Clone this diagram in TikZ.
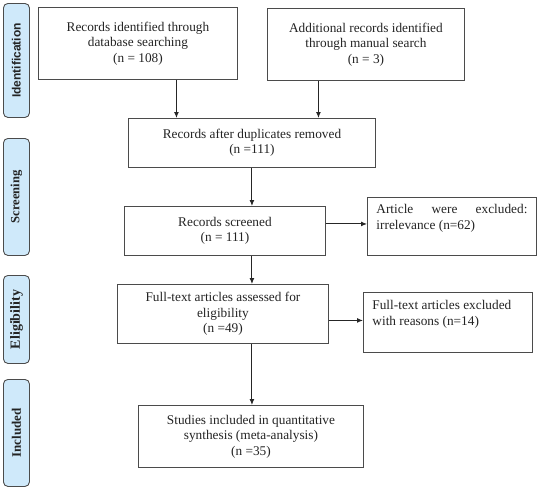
\documentclass[tikz,border=0pt]{standalone}
\usepackage{fontspec}
\setmainfont{Liberation Serif}
\setsansfont{Liberation Sans}
\usetikzlibrary{arrows.meta,calc}
\definecolor{lblfill}{RGB}{207,233,250}
\definecolor{edge}{RGB}{75,75,75}
\definecolor{txt}{RGB}{35,35,35}
\begin{document}
\begin{tikzpicture}[x=1pt,y=-1pt,
  box/.style={draw=edge,line width=0.9pt,anchor=north west,inner sep=0pt,align=center,
    font=\fontsize{13.3}{15.5}\selectfont,text=txt},
  sidebox/.style={draw=edge,line width=0.9pt,fill=lblfill,rounded corners=4.5pt,anchor=north west,
    inner sep=0pt,minimum width=26pt,font=\bfseries,text=txt},
  arr/.style={draw=black!85,line width=1pt,-{Latex[length=6pt,width=5pt]}}]
\useasboundingbox (0,0) rectangle (539,490);

% phase labels
\node[sidebox,minimum height=114pt] (s1) at (3,3)
  {\rotatebox{90}{\sffamily\fontsize{12}{14}\selectfont Identification}};
\node[sidebox,minimum height=117pt] (s2) at (3,138)
  {\rotatebox{90}{\fontsize{12.6}{14}\selectfont Screening}};
\node[sidebox,minimum height=88pt] (s3) at (3,275)
  {\rotatebox{90}{\fontsize{14}{15}\selectfont Eligibility}};
\node[sidebox,minimum height=107pt] (s4) at (3,379)
  {\rotatebox{90}{\fontsize{13}{14}\selectfont Included}};

% boxes
\node[box,minimum width=199pt,minimum height=72pt] (b1) at (38,7)
  {Records identified through\\database searching\\(n = 108)};
\node[box,minimum width=197pt,minimum height=72pt] (b2) at (267,8)
  {Additional records identified\\through manual search\\(n = 3)};
\node[box,minimum width=247pt,minimum height=49pt] (b3) at (128,118)
  {Records after duplicates removed\\(n =111)};
\node[box,minimum width=201pt,minimum height=49pt] (b4) at (124,206)
  {Records screened\\(n = 111)};
\node[box,minimum width=169pt,minimum height=58pt,inner xsep=9pt] (b5) at (367,197)
  {\parbox[c][58pt][t]{151pt}{\vspace*{7pt}Article\hfill were\hfill excluded:\\irrelevance (n=62)}};
\node[box,minimum width=211pt,minimum height=59pt] (b6) at (117,284)
  {Full-text articles assessed for\\eligibility\\(n =49)};
\node[box,minimum width=169pt,minimum height=60pt,inner xsep=9pt] (b7) at (363,292)
  {\parbox[c][60pt][t]{151pt}{\raggedright\vspace*{8pt}Full-text articles excluded\\with reasons (n=14)}};
\node[box,minimum width=225pt,minimum height=62pt] (b8) at (138,405)
  {Studies included in quantitative\\synthesis (meta-analysis)\\(n =35)};

% connectors
\draw[arr] ([xshift=38.5pt]b1.south) -- ([xshift=38.5pt]b1.south |- b3.north);
\draw[arr] ([xshift=-47.5pt]b2.south) -- ([xshift=-47.5pt]b2.south |- b3.north);
\draw[arr] (b3.south) -- (b3.south |- b4.north);
\draw[arr] (b3.south |- b4.south) -- (b3.south |- b6.north);
\draw[arr] (b3.south |- b6.south) -- (b3.south |- b8.north);
\draw[arr] ([yshift=7pt]b4.east) -- ([yshift=7pt]b4.east -| b5.west);
\draw[arr] ([yshift=-6.5pt]b6.east) -- ([yshift=-6.5pt]b6.east -| b7.west);
\end{tikzpicture}
\end{document}
